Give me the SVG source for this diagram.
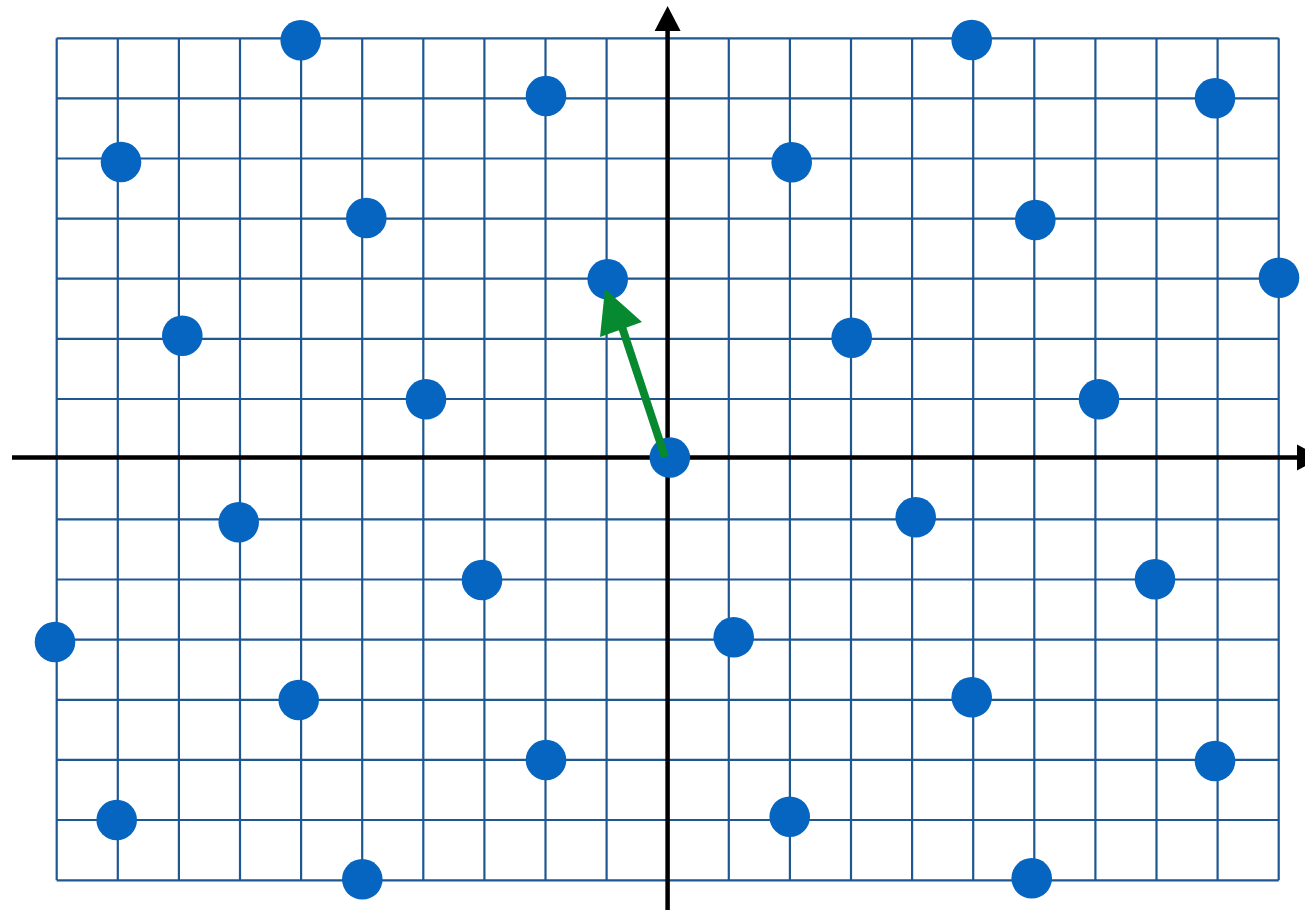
<svg xmlns="http://www.w3.org/2000/svg" width="1305" height="910" viewBox="0 0 1305 910">
  <style>
    .grid line { stroke: #1f5791; stroke-width: 2.2; }
    .axis { stroke: #000; stroke-width: 4.5; fill: none; }
    .axhead { fill: #000; }
    .dot { fill: #0565C0; }
    .vec { stroke: #078a2f; stroke-width: 8; fill: none; }
    .vechead { fill: #078a2f; }
  </style>
  <rect width="1305" height="910" fill="#ffffff"/>
  <g class="grid" id="grid">
    <line x1="56.7" y1="38.3" x2="56.7" y2="880.3"/>
    <line x1="117.8" y1="38.3" x2="117.8" y2="880.3"/>
    <line x1="178.9" y1="38.3" x2="178.9" y2="880.3"/>
    <line x1="240" y1="38.3" x2="240" y2="880.3"/>
    <line x1="301.1" y1="38.3" x2="301.1" y2="880.3"/>
    <line x1="362.2" y1="38.3" x2="362.2" y2="880.3"/>
    <line x1="423.3" y1="38.3" x2="423.3" y2="880.3"/>
    <line x1="484.4" y1="38.3" x2="484.4" y2="880.3"/>
    <line x1="545.5" y1="38.3" x2="545.5" y2="880.3"/>
    <line x1="606.6" y1="38.3" x2="606.6" y2="880.3"/>
    <line x1="728.8" y1="38.3" x2="728.8" y2="880.3"/>
    <line x1="789.9" y1="38.3" x2="789.9" y2="880.3"/>
    <line x1="851" y1="38.3" x2="851" y2="880.3"/>
    <line x1="912.1" y1="38.3" x2="912.1" y2="880.3"/>
    <line x1="973.2" y1="38.3" x2="973.2" y2="880.3"/>
    <line x1="1034.3" y1="38.3" x2="1034.3" y2="880.3"/>
    <line x1="1095.4" y1="38.3" x2="1095.4" y2="880.3"/>
    <line x1="1156.5" y1="38.3" x2="1156.5" y2="880.3"/>
    <line x1="1217.6" y1="38.3" x2="1217.6" y2="880.3"/>
    <line x1="1278.7" y1="38.3" x2="1278.7" y2="880.3"/>
    <line x1="56.7" y1="38.3" x2="1278.7" y2="38.3"/>
    <line x1="56.7" y1="98.4" x2="1278.7" y2="98.4"/>
    <line x1="56.7" y1="158.5" x2="1278.7" y2="158.5"/>
    <line x1="56.7" y1="218.6" x2="1278.7" y2="218.6"/>
    <line x1="56.7" y1="278.7" x2="1278.7" y2="278.7"/>
    <line x1="56.7" y1="338.9" x2="1278.7" y2="338.9"/>
    <line x1="56.7" y1="399" x2="1278.7" y2="399"/>
    <line x1="56.7" y1="519.4" x2="1278.7" y2="519.4"/>
    <line x1="56.7" y1="579.5" x2="1278.7" y2="579.5"/>
    <line x1="56.7" y1="639.6" x2="1278.7" y2="639.6"/>
    <line x1="56.7" y1="699.8" x2="1278.7" y2="699.8"/>
    <line x1="56.7" y1="759.9" x2="1278.7" y2="759.9"/>
    <line x1="56.7" y1="820" x2="1278.7" y2="820"/>
    <line x1="56.7" y1="880.3" x2="1278.7" y2="880.3"/>
  </g>
  <g id="axes">
    <line class="axis" x1="12" y1="457.5" x2="1298" y2="457.5"/>
    <polygon class="axhead" points="1297,444.5 1322,457.5 1297,470.5"/>
    <line class="axis" x1="667.6" y1="910" x2="667.6" y2="30"/>
    <polygon class="axhead" points="654.6,31 667.6,6 680.6,31"/>
  </g>
  <g id="p1"><circle class="dot" cx="300.7" cy="40.3" r="20.3"/></g>
  <g id="p2"><circle class="dot" cx="546" cy="96" r="20.3"/></g>
  <g id="p3"><circle class="dot" cx="121" cy="162" r="20.3"/></g>
  <g id="p4"><circle class="dot" cx="366.3" cy="218" r="20.3"/></g>
  <g id="p5"><circle class="dot" cx="607.7" cy="279.3" r="20.3"/></g>
  <g id="p6"><circle class="dot" cx="182.3" cy="335.7" r="20.3"/></g>
  <g id="p7"><circle class="dot" cx="426" cy="399.3" r="20.3"/></g>
  <g id="p8"><circle class="dot" cx="669.8" cy="457.5" r="20.3"/></g>
  <g id="p9"><circle class="dot" cx="238.7" cy="522.3" r="20.3"/></g>
  <g id="p10"><circle class="dot" cx="482" cy="580" r="20.3"/></g>
  <g id="p11"><circle class="dot" cx="55" cy="642" r="20.3"/></g>
  <g id="p12"><circle class="dot" cx="298.7" cy="700" r="20.3"/></g>
  <g id="p13"><circle class="dot" cx="546" cy="760" r="20.3"/></g>
  <g id="p14"><circle class="dot" cx="116.7" cy="820" r="20.3"/></g>
  <g id="p15"><circle class="dot" cx="362.3" cy="879.3" r="20.3"/></g>
  <g id="p16"><circle class="dot" cx="971.7" cy="40" r="20.3"/></g>
  <g id="p17"><circle class="dot" cx="1215" cy="98.3" r="20.3"/></g>
  <g id="p18"><circle class="dot" cx="791.7" cy="162.3" r="20.3"/></g>
  <g id="p19"><circle class="dot" cx="1035.3" cy="220" r="20.3"/></g>
  <g id="p20"><circle class="dot" cx="1279" cy="277.7" r="20.3"/></g>
  <g id="p21"><circle class="dot" cx="851.7" cy="337.7" r="20.3"/></g>
  <g id="p22"><circle class="dot" cx="1099" cy="399.3" r="20.3"/></g>
  <g id="p23"><circle class="dot" cx="915.7" cy="517.3" r="20.3"/></g>
  <g id="p24"><circle class="dot" cx="1155" cy="579.3" r="20.3"/></g>
  <g id="p25"><circle class="dot" cx="733.7" cy="637.3" r="20.3"/></g>
  <g id="p26"><circle class="dot" cx="971.7" cy="697.3" r="20.3"/></g>
  <g id="p27"><circle class="dot" cx="1215" cy="761" r="20.3"/></g>
  <g id="p28"><circle class="dot" cx="789.7" cy="816.7" r="20.3"/></g>
  <g id="p29"><circle class="dot" cx="1031.7" cy="878.3" r="20.3"/></g>
  <g id="connectors">
    <line class="vec" x1="665" y1="457" x2="622" y2="327"/>
    <polygon class="vechead" points="605,289 642,322 600,337"/>
  </g>
</svg>
